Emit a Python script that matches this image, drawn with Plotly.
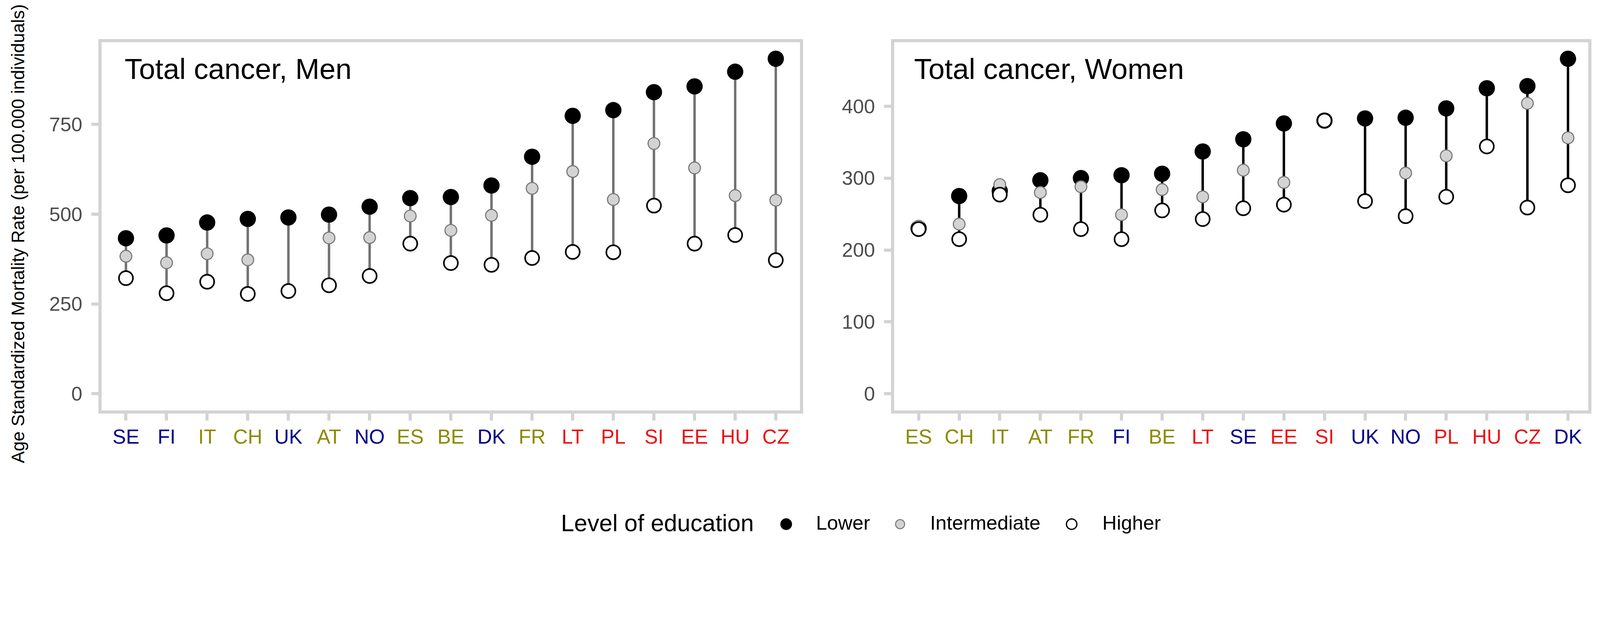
import plotly.graph_objects as go

# Target picture size in device pixels; the page is shown with a device pixel
# ratio of about 1.2, so all pixel sizes are converted to CSS pixels with S.
W, H = 4891, 1645
S = 1 / 1.2

# ---------------- data ----------------
countries_men = ["SE", "FI", "IT", "CH", "UK", "AT", "NO", "ES", "BE", "DK",
                 "FR", "LT", "PL", "SI", "EE", "HU", "CZ"]
lower_men = [433, 441, 477, 487, 491, 499, 521, 545, 548, 580,
             660, 774, 790, 840, 856, 897, 933]
inter_men = [383, 365, 390, 373, None, 434, 435, 495, 455, 497,
             572, 619, 541, 697, 629, 552, 539]
higher_men = [322, 280, 312, 278, 286, 302, 328, 418, 364, 359,
              378, 395, 394, 524, 418, 442, 372]

countries_women = ["ES", "CH", "IT", "AT", "FR", "FI", "BE", "LT", "SE", "EE",
                   "SI", "UK", "NO", "PL", "HU", "CZ", "DK"]
lower_women = [230, 275, 282, 297, 300, 304, 306, 337, 354, 376,
               380, 383, 384, 397, 425, 428, 466]
inter_women = [233, 236, 291, 280, 288, 249, 284, 274, 311, 294,
               None, None, 307, 331, None, 404, 356]
higher_women = [229, 215, 277, 249, 229, 215, 255, 243, 258, 263,
                380, 268, 247, 274, 344, 259, 290]

region_blue = ["SE", "FI", "UK", "NO", "DK"]
region_olive = ["IT", "CH", "AT", "ES", "BE", "FR"]
region_red = ["LT", "PL", "SI", "EE", "HU", "CZ"]

yticks_men = [0, 250, 500, 750]
yticks_women = [0, 100, 200, 300, 400]

# ---------------- styles ----------------
BLUE, OLIVE, RED = "#00008B", "#8B8B00", "#EE1111"
BORDER = "#d3d3d3"
FONT = "Liberation Sans"


def label_color(c):
    if c in region_blue:
        return BLUE
    if c in region_olive:
        return OLIVE
    return RED


def px_x(p):
    return p / W


def px_y(p):
    return 1 - p / H


def sz(v):
    return v * S


def isz(v):
    return int(round(v * S))


def stems(lo, mi, hi):
    xs, ys = [], []
    for i, vals in enumerate(zip(lo, mi, hi)):
        v = [a for a in vals if a is not None]
        xs += [i, i, None]
        ys += [min(v), max(v), None]
    return xs, ys


fig = go.Figure()

panels = [
    ("x", "y", countries_men, lower_men, inter_men, higher_men, "#727272"),
    ("x2", "y2", countries_women, lower_women, inter_women, higher_women, "#000000"),
]

for xa, ya, cats, lo, mi, hi, stemcol in panels:
    idx = list(range(len(cats)))
    sx, sy = stems(lo, mi, hi)
    fig.add_trace(go.Scatter(x=sx, y=sy, mode="lines", xaxis=xa, yaxis=ya,
                             line=dict(color=stemcol, width=sz(7.5)),
                             showlegend=False, hoverinfo="skip"))
    fig.add_trace(go.Scatter(x=idx, y=lo, mode="markers", xaxis=xa, yaxis=ya,
                             name="Lower", showlegend=False,
                             marker=dict(size=sz(50), color="black",
                                         line=dict(width=0))))
    fig.add_trace(go.Scatter(x=idx, y=mi, mode="markers", xaxis=xa, yaxis=ya,
                             name="Intermediate", showlegend=False,
                             marker=dict(size=sz(36), color="#d3d3d3",
                                         line=dict(color="#7a7a7a", width=sz(3.5)))))
    fig.add_trace(go.Scatter(x=idx, y=hi, mode="markers", xaxis=xa, yaxis=ya,
                             name="Higher", showlegend=False,
                             marker=dict(size=sz(43), color="white",
                                         line=dict(color="black", width=sz(5)))))

common_axis = dict(showgrid=False, zeroline=False, showline=True, mirror=True,
                   linecolor=BORDER, linewidth=sz(9), ticks="outside",
                   tickcolor=BORDER, tickwidth=sz(9), ticklen=sz(22))

xdom_men = [px_x(312), px_x(2458)]
xdom_women = [px_x(2747), px_x(4879)]
ydom = [px_y(1260), px_y(129)]

fig.update_layout(
    width=round(W * S), height=round(H * S),
    margin=dict(l=0, r=0, t=0, b=0),
    paper_bgcolor="white", plot_bgcolor="white",
    font=dict(family=FONT, color="black"),
    showlegend=False,
    xaxis=dict(domain=xdom_men, range=[-0.6, 16.6], anchor="y",
               tickvals=list(range(len(countries_men))),
               ticktext=[f"<span style='color:{label_color(c)}'>{c}</span>" for c in countries_men],
               tickfont=dict(size=sz(62), family=FONT), ticklabelstandoff=isz(-4),
               **common_axis),
    yaxis=dict(domain=ydom, range=[-46.6, 979.6], anchor="x",
               tickvals=yticks_men, ticktext=[str(v) for v in yticks_men],
               tickfont=dict(size=sz(61), color="#4d4d4d", family=FONT),
               ticklabelstandoff=isz(16), **common_axis),
    xaxis2=dict(domain=xdom_women, range=[-0.6, 16.5], anchor="y2",
                tickvals=list(range(len(countries_women))),
                ticktext=[f"<span style='color:{label_color(c)}'>{c}</span>" for c in countries_women],
                tickfont=dict(size=sz(62), family=FONT), ticklabelstandoff=isz(-4),
                **common_axis),
    yaxis2=dict(domain=ydom, range=[-23.3, 489.3], anchor="x2",
                tickvals=yticks_women, ticktext=[str(v) for v in yticks_women],
                tickfont=dict(size=sz(61), color="#4d4d4d", family=FONT),
                ticklabelstandoff=isz(16), **common_axis),
)

LEG_Y = 1605
annotations = [
    dict(text="Total cancer, Men", x=px_x(380), y=px_y(212), xref="paper", yref="paper",
         xanchor="left", yanchor="middle", showarrow=False,
         font=dict(size=sz(89), color="black", family=FONT)),
    dict(text="Total cancer, Women", x=px_x(2806), y=px_y(212), xref="paper", yref="paper",
         xanchor="left", yanchor="middle", showarrow=False,
         font=dict(size=sz(89), color="black", family=FONT)),
    dict(text="Age Standardized Mortality Rate (per 100.000 individuals)",
         x=px_x(56), y=px_y(718), xref="paper", yref="paper", textangle=-90,
         xanchor="center", yanchor="middle", showarrow=False,
         font=dict(size=sz(55), color="black", family=FONT)),
    dict(text="Level of education", x=px_x(1722), y=px_y(LEG_Y), xref="paper", yref="paper",
         xanchor="left", yanchor="middle", showarrow=False, borderpad=0,
         font=dict(size=sz(73), color="black", family=FONT)),
]
legend_items = [("Lower", 2415, 2505), ("Intermediate", 2765, 2856), ("Higher", 3292, 3385)]
for name, mx, tx in legend_items:
    annotations.append(dict(text=name, x=px_x(tx), y=px_y(LEG_Y), xref="paper", yref="paper",
                            xanchor="left", yanchor="middle", showarrow=False, borderpad=0,
                            font=dict(size=sz(61), color="black", family=FONT)))
fig.update_layout(annotations=annotations)

legend_styles = {
    "Lower": dict(r=18, fill="black", line="black", lw=0),
    "Intermediate": dict(r=14, fill="#d3d3d3", line="#7a7a7a", lw=3),
    "Higher": dict(r=16, fill="white", line="black", lw=4),
}
shapes = []
for name, mx, tx in legend_items:
    s = legend_styles[name]
    shapes.append(dict(type="circle", xref="paper", yref="paper",
                       xsizemode="pixel", ysizemode="pixel",
                       xanchor=px_x(mx), yanchor=px_y(LEG_Y + 4),
                       x0=-sz(s["r"]), x1=sz(s["r"]), y0=-sz(s["r"]), y1=sz(s["r"]),
                       fillcolor=s["fill"], line=dict(color=s["line"], width=sz(s["lw"]))))
fig.update_layout(shapes=shapes)

fig.write_html("out.html", config={"displayModeBar": False},
               post_script="document.body.style.margin='0';")
